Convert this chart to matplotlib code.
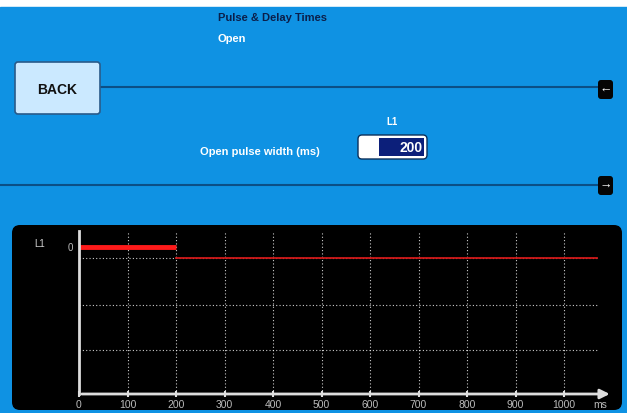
import matplotlib
matplotlib.use("Agg")
import matplotlib.pyplot as plt
from matplotlib.patches import FancyBboxPatch, Rectangle

plt.rcParams['font.family'] = ['Liberation Sans', 'DejaVu Sans']

# screen texts
title = "Pulse & Delay Times"
subtitle = "Open"
channel = "L1"
field_label = "Open pulse width (ms)"

# pulse data (ms)
pulse_width = 200
x_end = 1068
x_ticks = [0, 100, 200, 300, 400, 500, 600, 700, 800, 900, 1000]
open_level = 0.99
hold_level = 0.92
grid_levels = [0.3, 0.6, 0.92]

W, H = 627, 414
BLUE = "#0f92e3"
fig = plt.figure(figsize=(W / 100, H / 100), dpi=100)
fig.patch.set_facecolor("white")

# full-screen pixel axes for the UI
ui = fig.add_axes([0, 0, 1, 1])
ui.set_xlim(0, W)
ui.set_ylim(H, 0)
ui.axis("off")
ui.add_patch(Rectangle((0, 8), W, H - 8, color=BLUE, zorder=0))

ui.text(218, 18, title, color="#0b1f4a", fontsize=8, fontweight="bold", va="center")
ui.text(218, 39, subtitle, color="white", fontsize=8, fontweight="bold", va="center")

# back button
ui.add_patch(FancyBboxPatch((15, 63), 85, 52, boxstyle="round,pad=0,rounding_size=3",
                            fc="#cbe9ff", ec="#2a5b8a", lw=1.2, zorder=2))
ui.text(57, 90, "BACK", color="#111111", fontsize=10, fontweight="bold",
        ha="center", va="center", zorder=3)

# separator lines and arrow buttons
ui.plot([100, 600], [88, 88], color="#0b4f86", lw=1.5, zorder=1)
ui.plot([0, 600], [186, 186], color="#0b4f86", lw=1.5, zorder=1)
for yc, arrow in [(90, "\u2190"), (186, "\u2192")]:
    ui.add_patch(FancyBboxPatch((598, yc - 9), 15, 19, boxstyle="round,pad=0,rounding_size=3",
                                fc="#050505", ec="none", zorder=2))
    ui.text(605.5, yc, arrow, color="white", fontsize=9, fontweight="bold",
            ha="center", va="center", zorder=3)

# input field
ui.text(392, 122, channel, color="white", fontsize=7, fontweight="bold", ha="center", va="center")
ui.text(320, 152, field_label, color="white", fontsize=8, fontweight="bold", ha="right", va="center")
ui.add_patch(FancyBboxPatch((358, 136), 69, 24, boxstyle="round,pad=0,rounding_size=4",
                            fc="white", ec="#0b2f5a", lw=1, zorder=2))
ui.add_patch(Rectangle((379, 139), 45, 18, fc="#0c1f7a", ec="none", zorder=3))
ui.text(423, 148, str(pulse_width), color="white", fontsize=10, fontweight="bold",
        ha="right", va="center", zorder=4)

# dark chart panel
ui.add_patch(FancyBboxPatch((12, 226), 610, 185, boxstyle="round,pad=0,rounding_size=8",
                            fc="black", ec="none", zorder=1))
ui.text(34, 244, channel, color="#cfcfcf", fontsize=7, va="center", zorder=3)

# chart axes, pixel box: x 79..615, y 232..395
px0, px1, py0, py1 = 79, 615, 232, 395
ax = fig.add_axes([px0 / W, 1 - py1 / H, (px1 - px0) / W, (py1 - py0) / H])
ax.set_facecolor("none")
ax.set_xlim(0, (px1 - px0) / 0.485)
ax.set_ylim(0, (py1 - py0) / 148)
for s in ax.spines.values():
    s.set_visible(False)
ax.set_xticks([])
ax.set_yticks([])

for lv in grid_levels:
    ax.plot([0, x_end], [lv, lv], color="white", lw=0.8, ls=(0, (1, 2)), alpha=0.8)
for t in x_ticks[1:]:
    ax.plot([t, t], [0, 1.1], color="white", lw=0.8, ls=(0, (1, 2)), alpha=0.8)

ax.plot([pulse_width, x_end], [hold_level, hold_level], color="#d01818", lw=1.3)
ax.plot([0, pulse_width], [open_level, open_level], color="#ff1a1a", lw=3.5, solid_capstyle="butt")

ax.plot([0, 0], [0, 1.1], color="#dddddd", lw=2, clip_on=False)
ax.annotate("", xy=(1100, 0), xytext=(0, 0),
            arrowprops=dict(arrowstyle="-|>", color="#dddddd", lw=2, mutation_scale=14),
            annotation_clip=False)
for t in x_ticks:
    ax.plot([t], [0], marker="|", color="#dddddd", ms=4, mew=1.5, clip_on=False)
    ax.text(t, -0.065, str(t), color="#bbbbbb", fontsize=7.5, ha="center", va="center",
            clip_on=False)
ax.text(1075, -0.065, "ms", color="#bbbbbb", fontsize=7.5, ha="center", va="center")
ax.text(-12, open_level, "0", color="#bbbbbb", fontsize=7, ha="right", va="center")

fig.savefig("out.png", dpi=100, facecolor=fig.get_facecolor())
